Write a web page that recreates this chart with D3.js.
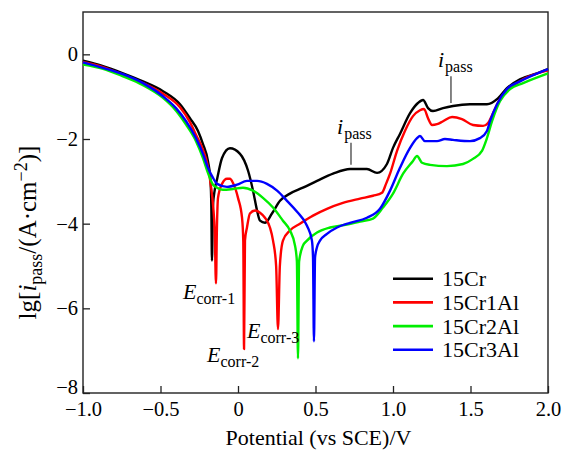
<!DOCTYPE html>
<html>
<head>
<meta charset="utf-8">
<script src="https://cdn.jsdelivr.net/npm/d3@7"></script>
<style>
  body { margin: 0; background: #fff; }
  text { font-family: "Liberation Serif", "Times New Roman", serif; fill: #000; }
</style>
</head>
<body>
<div id="chart"></div>
<script>
// series: [potential (V vs SCE), lg i]
const cr15 = [
  [-1.0, -0.15], [-0.871, -0.28], [-0.742, -0.45], [-0.613, -0.64], [-0.484, -0.87],
  [-0.374, -1.18], [-0.31, -1.51], [-0.258, -1.81], [-0.226, -2.12], [-0.194, -2.52],
  [-0.178, -2.95], [-0.172, -3.6], [-0.168, -4.87], [-0.162, -3.6], [-0.150, -3.2],
  [-0.135, -2.95], [-0.103, -2.45], [-0.052, -2.22], [0.013, -2.35], [0.065, -2.75],
  [0.097, -3.22], [0.123, -3.69], [0.142, -3.93], [0.174, -3.98], [0.219, -3.76],
  [0.271, -3.46], [0.335, -3.29], [0.419, -3.15], [0.51, -2.99], [0.613, -2.82],
  [0.723, -2.71], [0.832, -2.71], [0.897, -2.80], [0.961, -2.59], [1.0, -2.21],
  [1.045, -1.88], [1.11, -1.39], [1.161, -1.15], [1.194, -1.08], [1.226, -1.27],
  [1.258, -1.34], [1.323, -1.27], [1.387, -1.22], [1.497, -1.18], [1.606, -1.18],
  [1.677, -1.04], [1.735, -0.80], [1.819, -0.59], [1.929, -0.45], [2.0, -0.35]
];
const cr15al1 = [
  [-1.0, -0.18], [-0.871, -0.30], [-0.742, -0.48], [-0.613, -0.68], [-0.484, -0.93],
  [-0.374, -1.25], [-0.31, -1.6], [-0.271, -1.9], [-0.226, -2.25], [-0.194, -2.65],
  [-0.175, -3.1], [-0.160, -3.6], [-0.150, -4.2], [-0.142, -5.41], [-0.136, -4.1],
  [-0.129, -3.39], [-0.103, -3.06], [-0.071, -2.94], [-0.052, -2.94], [-0.032, -3.04],
  [0.0, -3.39], [0.026, -3.86], [0.034, -4.4], [0.039, -6.96], [0.045, -4.4],
  [0.058, -4.09], [0.077, -3.76], [0.11, -3.69], [0.142, -3.74], [0.174, -3.86],
  [0.206, -4.09], [0.226, -4.40], [0.246, -5.0], [0.258, -6.49], [0.270, -5.0],
  [0.29, -4.40], [0.335, -4.16], [0.40, -4.0], [0.484, -3.81], [0.574, -3.65],
  [0.677, -3.51], [0.787, -3.41], [0.871, -3.34], [0.929, -3.27], [0.955, -3.06],
  [0.981, -2.82], [1.026, -2.28], [1.077, -1.81], [1.129, -1.46], [1.174, -1.32],
  [1.2, -1.29], [1.226, -1.51], [1.252, -1.67], [1.284, -1.65], [1.323, -1.58],
  [1.381, -1.48], [1.445, -1.53], [1.516, -1.67], [1.581, -1.69], [1.613, -1.62],
  [1.645, -1.39], [1.69, -1.06], [1.755, -0.80], [1.839, -0.59], [2.0, -0.38]
];
const cr15al2 = [
  [-1.0, -0.24], [-0.871, -0.34], [-0.742, -0.52], [-0.613, -0.73], [-0.484, -1.03],
  [-0.40, -1.33], [-0.335, -1.66], [-0.271, -2.05], [-0.226, -2.45], [-0.194, -2.8],
  [-0.161, -3.08], [-0.135, -3.15], [-0.097, -3.2], [-0.032, -3.18], [0.032, -3.15],
  [0.097, -3.22], [0.161, -3.39], [0.226, -3.62], [0.29, -3.93], [0.335, -4.16],
  [0.368, -4.52], [0.380, -4.9], [0.387, -7.18], [0.394, -4.9], [0.419, -4.52],
  [0.445, -4.40], [0.51, -4.21], [0.594, -4.09], [0.703, -4.02], [0.787, -3.95],
  [0.871, -3.88], [0.935, -3.62], [1.0, -3.29], [1.065, -2.82], [1.129, -2.52],
  [1.155, -2.40], [1.187, -2.56], [1.239, -2.61], [1.348, -2.64], [1.452, -2.59],
  [1.516, -2.47], [1.574, -2.28], [1.606, -1.98], [1.639, -1.58], [1.69, -1.11],
  [1.755, -0.82], [1.839, -0.68], [2.0, -0.45]
];
const cr15al3 = [
  [-1.0, -0.19], [-0.871, -0.32], [-0.742, -0.47], [-0.613, -0.68], [-0.484, -0.99],
  [-0.40, -1.27], [-0.335, -1.58], [-0.271, -1.98], [-0.226, -2.35], [-0.194, -2.68],
  [-0.161, -2.92], [-0.135, -3.06], [-0.071, -3.13], [-0.006, -3.08], [0.058, -2.99],
  [0.123, -2.99], [0.187, -3.06], [0.252, -3.22], [0.316, -3.46], [0.381, -3.72],
  [0.445, -4.05], [0.477, -4.40], [0.484, -4.8], [0.49, -6.78], [0.497, -4.8],
  [0.51, -4.55], [0.529, -4.40], [0.574, -4.24], [0.639, -4.09], [0.723, -3.98],
  [0.832, -3.86], [0.916, -3.65], [0.981, -3.22], [1.045, -2.68], [1.11, -2.21],
  [1.155, -1.98], [1.174, -1.93], [1.206, -2.05], [1.284, -2.05], [1.335, -2.0],
  [1.387, -2.02], [1.497, -2.05], [1.561, -1.98], [1.606, -1.81], [1.626, -1.58],
  [1.671, -1.18], [1.735, -0.82], [1.819, -0.64], [2.0, -0.35]
];

const seriesNames = ["15Cr", "15Cr1Al", "15Cr2Al", "15Cr3Al"];
const seriesData = [cr15, cr15al1, cr15al2, cr15al3];
const seriesColors = ["#000000", "#ff0000", "#00ee00", "#0000ff"];

const xTicks = [-1.0, -0.5, 0, 0.5, 1.0, 1.5, 2.0];
const yTicks = [-8, -6, -4, -2, 0];

// annotation labels: [x, y, main, sub]
const ecorrLabels = [
  [-0.355, -5.79, "E", "corr-1"],
  [-0.20, -7.27, "E", "corr-2"],
  [0.058, -6.71, "E", "corr-3"]
];
const ipassLabels = [
  // text x, text y, leader x, leader top, leader bottom
  [0.639, -1.88, 0.729, -2.09, -2.61],
  [1.29, -0.31, 1.374, -0.52, -1.15]
];

const W = 569, H = 452;
const margin = {top: 12, right: 21, bottom: 59, left: 83},
    width = W - margin.left - margin.right,
    height = H - margin.top - margin.bottom;

const svg = d3.select("#chart")
    .append("svg")
    .attr("width", W)
    .attr("height", H)
    .append("g")
    .attr("transform", `translate(${margin.left},${margin.top})`);

const x = d3.scaleLinear().domain([-1, 2]).range([0, width]);
const y = d3.scaleLinear().domain([-8, 1]).range([height, 0]);

const fmtX = d => d === 0 ? "0" : d3.format(".1f")(d);

const xAxis = svg.append("g")
    .attr("transform", `translate(0,${height})`)
    .call(d3.axisBottom(x).tickValues(xTicks).tickFormat(fmtX)
        .tickSizeInner(-7).tickSizeOuter(0).tickPadding(8));
const yAxis = svg.append("g")
    .call(d3.axisLeft(y).tickValues(yTicks).tickFormat(d3.format("d"))
        .tickSizeInner(-7).tickSizeOuter(0).tickPadding(5));

[xAxis, yAxis].forEach(a => {
    a.select(".domain").remove();
    a.selectAll(".tick line").attr("stroke", "#222").attr("stroke-width", 1.3);
    a.selectAll(".tick text").style("font-size", "20.5px")
        .style("font-family", "'Liberation Serif', serif").attr("fill", "#000");
});
// lift the bottom y label a touch so it clears the x labels
yAxis.selectAll(".tick text").filter(d => d === -8).attr("dy", "0.02em");

// frame
svg.append("rect")
    .attr("width", width).attr("height", height)
    .attr("fill", "none").attr("stroke", "#222").attr("stroke-width", 1.4);

// curves
const line = d3.line()
    .x(d => x(d[0]))
    .y(d => y(d[1]))
    .curve(d3.curveMonotoneX);

seriesData.forEach((data, i) => {
    svg.append("path")
        .datum(data)
        .attr("fill", "none")
        .attr("stroke", seriesColors[i])
        .attr("stroke-width", 2.4)
        .attr("stroke-linejoin", "round")
        .attr("d", line);
});

// E_corr labels
ecorrLabels.forEach(d => {
    const t = svg.append("text")
        .attr("x", x(d[0])).attr("y", y(d[1]))
        .style("font-size", "22px");
    t.append("tspan").style("font-style", "italic").text(d[2]);
    t.append("tspan").attr("dy", 5).style("font-size", "16px").text(d[3]);
});

// i_pass labels with leaders
ipassLabels.forEach(d => {
    const t = svg.append("text")
        .attr("x", x(d[0])).attr("y", y(d[1]))
        .style("font-size", "22px");
    t.append("tspan").style("font-style", "italic").text("i");
    t.append("tspan").attr("dy", 5).attr("dx", 1).style("font-size", "16px").text("pass");
    svg.append("line")
        .attr("x1", x(d[2])).attr("x2", x(d[2]))
        .attr("y1", y(d[3])).attr("y2", y(d[4]))
        .attr("stroke", "#333").attr("stroke-width", 1.2);
});

// axis labels
svg.append("text")
    .attr("x", width / 2 + 3)
    .attr("y", height + 52)
    .style("text-anchor", "middle")
    .style("font-size", "22px")
    .text("Potential (vs SCE)/V");

const yl = svg.append("text")
    .attr("transform", `translate(${-margin.left + 36},${height / 2 + 30}) rotate(-90)`)
    .style("text-anchor", "middle")
    .style("font-size", "25px");
yl.append("tspan").text("lg[");
yl.append("tspan").style("font-style", "italic").text("i");
yl.append("tspan").attr("dy", 6).style("font-size", "18px").text("pass");
yl.append("tspan").attr("dy", -6).text("/(A·cm");
yl.append("tspan").attr("dy", -9).style("font-size", "18px").text("−2");
yl.append("tspan").attr("dy", 9).text(")]");

// legend
const legend = svg.append("g")
    .attr("transform", `translate(${x(1.0)},${y(-5.3)})`);
seriesNames.forEach((name, i) => {
    const g = legend.append("g").attr("transform", `translate(0,${i * 23.7})`);
    g.append("line")
        .attr("x1", 0).attr("x2", 40)
        .attr("stroke", seriesColors[i]).attr("stroke-width", 2.6);
    g.append("text")
        .attr("x", 49).attr("y", 7.5)
        .style("font-size", "22px")
        .text(name);
});
</script>
</body>
</html>
